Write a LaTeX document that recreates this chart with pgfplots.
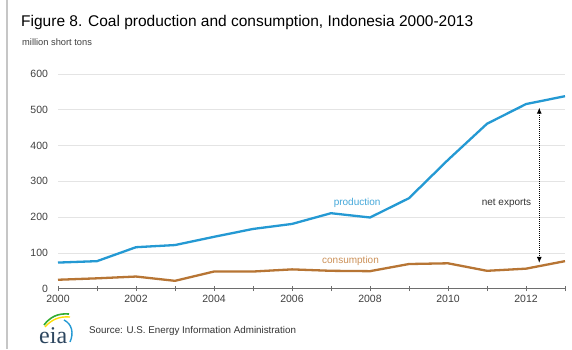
\documentclass[border=0pt]{standalone}
\usepackage{pgfplots}
\pgfplotsset{compat=1.18}
\usetikzlibrary{arrows.meta}
\usepackage{fontspec}
\setmainfont{Liberation Sans}
\newfontfamily\seriffont{Liberation Serif}
\definecolor{prodblue}{RGB}{36,153,211}
\definecolor{consbrown}{RGB}{183,117,52}
\definecolor{consbrownlt}{RGB}{204,145,88}
\definecolor{ticktext}{RGB}{64,64,64}
\definecolor{gridgray}{RGB}{228,228,228}
\definecolor{axisgray}{RGB}{110,110,110}
\definecolor{eiatext}{RGB}{45,70,95}
\pgfplotstableread{
year prod cons
2000 73 25
2001 77 29
2002 116 34
2003 122 22
2004 145 48
2005 167 48
2006 181 54
2007 211 50
2008 199 49
2009 253 69
2010 360 71
2011 461 50
2012 516 56
2013 538 77
}\coaldata
\begin{document}
\begin{tikzpicture}[x=1pt,y=1pt]
\useasboundingbox (0,0) rectangle (572,349);
\fill[white] (0,0) rectangle (572,349);
\draw[gray!45, line width=1.8pt] (7,0) -- (7,349);
\node[anchor=base west, font=\fontsize{15.5}{17}\selectfont, inner sep=0pt] at (21,323) {Figure 8. Coal production and consumption, Indonesia 2000-2013};
\node[anchor=base west, font=\fontsize{9.3}{10}\selectfont, inner sep=0pt, text=ticktext] at (22,304) {million short tons};
\begin{axis}[
  at={(58pt,60.3pt)}, anchor=south west,
  scale only axis, width=507pt, height=214.7pt,
  xmin=2000, xmax=2013, ymin=0, ymax=600,
  axis x line=bottom, axis y line=left,
  x axis line style={axisgray, line width=1pt, -},
  y axis line style={draw=none},
  xtick={2000,2002,...,2012},
  minor xtick={2001,2003,...,2013},
  xticklabels={2000,2002,2004,2006,2008,2010,2012},
  ytick={0,100,...,600},
  ymajorgrids, grid style={gridgray, line width=0.8pt},
  major grid style={gridgray, line width=0.8pt},
  xtick style={axisgray, line width=0.8pt},
  xtick align=center,
  major tick length=5pt, minor tick length=5pt,
  ytick style={draw=none},
  /pgf/number format/assume math mode=true,
  /pgf/number format/1000 sep={},
  ticklabel style={font=\fontsize{10.5}{12}\selectfont, text=ticktext},
  yticklabel style={anchor=east, xshift=-4pt},
  clip=false,
]
\addplot[prodblue, line width=2.3pt] table[x=year, y=prod] {\coaldata};
\addplot[consbrown, line width=2.3pt] table[x=year, y=cons] {\coaldata};
\draw[black, densely dotted, line width=1pt, {Latex[length=6pt,width=5pt]}-{Latex[length=6pt,width=5pt]}] (axis cs:2012.34,506) -- (axis cs:2012.34,72);
\node[font=\fontsize{10}{12}\selectfont, text=prodblue!85] at (axis cs:2007.67,240) {production};
\node[font=\fontsize{10}{12}\selectfont, text=consbrownlt] at (axis cs:2007.5,77) {consumption};
\node[font=\fontsize{10}{12}\selectfont, text=black!80] at (axis cs:2011.5,240) {net exports};
\end{axis}
% eia logo
\node[anchor=base west, inner sep=0pt, font=\seriffont\fontsize{24}{26}\selectfont, text=eiatext] at (39,6) {eia};
\draw[green!60!black!80, line width=1.6pt] (44,24) .. controls (50,32) and (58,36) .. (69,35);
\draw[yellow!80!orange, line width=1.4pt] (45,22) .. controls (51,29) and (59,33) .. (70,32);
\draw[prodblue, line width=1.4pt] (64,29) .. controls (72,25) and (74,16) .. (70,7);
\node[anchor=base west, inner sep=0pt, font=\fontsize{9.8}{11}\selectfont, text=black!80] at (89,16) {Source: U.S. Energy Information Administration};
\end{tikzpicture}
\end{document}
